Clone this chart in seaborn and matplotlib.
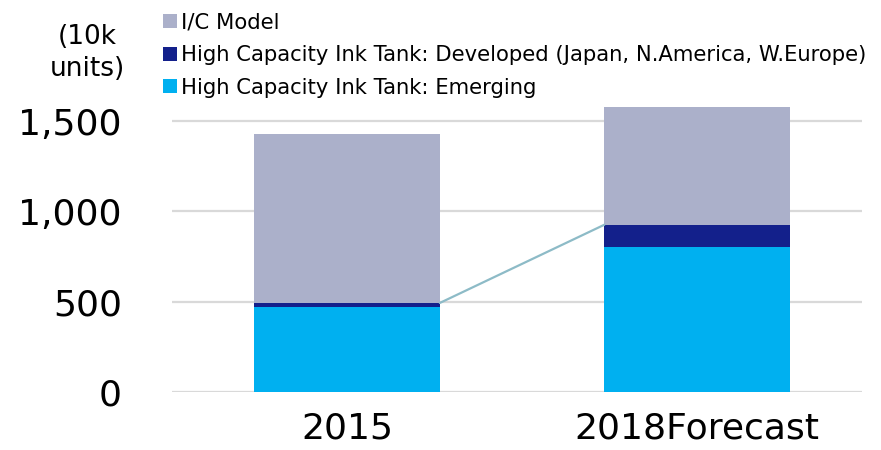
import numpy as np
import pandas as pd
import matplotlib
matplotlib.use("Agg")
import matplotlib.pyplot as plt
from matplotlib.patches import Patch
import seaborn as sns

# data (10k units)
categories = ["2015", "2018Forecast"]
emerging = [470, 801]
developed = [23, 125]
ic_model = [935, 654]

series_names = [
    "I/C Model",
    "High Capacity Ink Tank: Developed (Japan, N.America, W.Europe)",
    "High Capacity Ink Tank: Emerging",
]
colors = ["#ABB0CA", "#13208B", "#00B0F0"]

df = pd.DataFrame({
    "year": categories,
    "emerging": emerging,
    "developed": developed,
    "ic": ic_model,
})
df["lvl1"] = df["emerging"]
df["lvl2"] = df["lvl1"] + df["developed"]
df["lvl3"] = df["lvl2"] + df["ic"]

sns.set_style("white")
plt.rcParams["font.family"] = ["DejaVu Sans"]
plt.rcParams["text.color"] = "black"

fig = plt.figure(figsize=(8.81, 4.5), dpi=100)
ax = fig.add_axes([172 / 881, 1 - 392 / 450, 690 / 881, 289 / 450])

bar_w = 0.53
# draw cumulative levels from the top down so they overlap into a stack
for col, c in zip(["lvl3", "lvl2", "lvl1"], colors):
    sns.barplot(data=df, x="year", y=col, color=c, width=bar_w,
                saturation=1, ax=ax, zorder=3, linewidth=0)

# connector line between the developed tops
ax.plot([0 + bar_w / 2, 1 - bar_w / 2], df["lvl2"].tolist(),
        color="#8DBBC7", lw=1.6, zorder=4)

ax.set_ylim(0, 1600)
ax.set_xlim(-0.5, 1.471)
ax.set_yticks([0, 500, 1000, 1500])
ax.set_yticklabels(["0", "500", "1,000", "1,500"])
ax.yaxis.grid(True, color="#D9D9D9", lw=1.6, zorder=0)
ax.xaxis.grid(False)
for s in ax.spines.values():
    s.set_visible(False)
ax.tick_params(axis="y", length=0, pad=36, labelsize=26, labelcolor="black")
ax.tick_params(axis="x", length=0, pad=14, labelsize=26, labelcolor="black")
ax.set_xlabel("")
ax.set_ylabel("")

fig.text(87 / 881, 1 - 53 / 450, "(10k\nunits)", ha="center", va="center",
         fontsize=19, linespacing=1.35)

handles = [Patch(facecolor=c, edgecolor="none") for c in colors]
leg = fig.legend(handles, series_names, loc="upper left",
                 bbox_to_anchor=(155 / 881, 1 - 4 / 450), frameon=False,
                 fontsize=15.2, handlelength=0.65, handleheight=0.65,
                 handletextpad=0.2, labelspacing=0.6, borderaxespad=0)

fig.savefig("out.png", dpi=100)
